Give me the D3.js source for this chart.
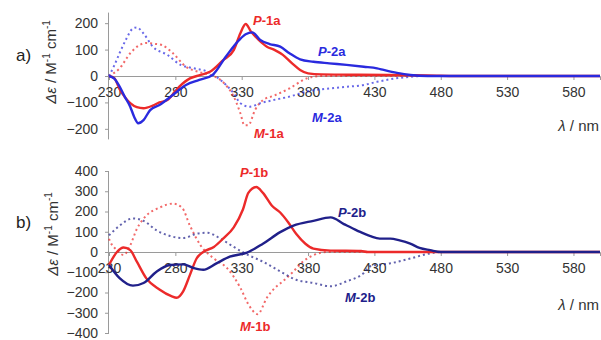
<!DOCTYPE html>
<html><head><meta charset="utf-8">
<script src="https://cdnjs.cloudflare.com/ajax/libs/d3/7.8.5/d3.min.js"></script>
<style>
body{margin:0;background:#fff;}
svg{display:block;font-family:"Liberation Sans",Arial,sans-serif;}
</style></head><body>
<svg id="c" width="601" height="340"></svg>
<script>
// ---- data (wavelength in nm, Δε in M^-1 cm^-1) ----
const xTicks = [230,280,330,380,430,480,530,580];
const yTicksA = [-200,-100,0,100,200];
const yTicksB = [-400,-300,-200,-100,0,100,200,300,400];

const p1aX = [230,234,238,242,246,251,256,263,268,274,283,291,299,306,316,324,329,333,337,343,349,355,361,368,374,380,390,410,440,470,500,600];
const p1aY = [0,-8,-50,-80,-103,-118,-122,-112,-100,-91,-40,-9,4,16,60,98,162,197,168,136,111,98,80,48,23,10,6,5,4,2,0,0];
const p2aX = [230,234,238,242,246,249,252,256,261,268,278,288,298,308,318,328,333,338,344,351,359,366,374,384,396,409,422,432,437,447,457,470,600];
const p2aY = [0,-10,-40,-80,-116,-155,-179,-167,-129,-110,-72,-34,-15,4,73,136,158,165,136,121,111,86,63,54,48,42,35,29,23,12,4,0,0];
const m1aX = [230,238,246,253,258,264,270,278,288,298,306,314,319,324,329,332,335,340,346,354,366,379,390,600];
const m1aY = [0,29,86,117,125,122,117,87,35,15,5,-15,-40,-78,-141,-186,-186,-129,-91,-75,-47,-9,0,0];
const m2aX = [230,234,238,243,248,251,256,263,274,284,294,304,314,324,329,336,344,354,366,379,397,409,422,432,445,457,470,600];
const m2aY = [0,40,87,140,180,184,161,111,80,42,29,17,-15,-66,-103,-116,-103,-91,-78,-59,-47,-41,-34,-22,-10,-3,0,0];

const p1bX = [230,236,241,246,251,258,268,277,281,286,291,296,301,309,316,324,331,335,341,346,353,359,365,371,378,384,397,420,425,600];
const p1bY = [-64,0,22,9,-48,-129,-185,-218,-226,-193,-113,-32,0,25,66,122,211,292,321,292,227,195,147,90,41,17,7,5,0,0];
const m1bX = [230,231,236,241,246,251,258,268,278,285,291,299,309,319,329,335,342,349,355,361,369,376,384,395,600];
const m1bY = [65,50,9,-15,33,114,179,219,239,219,130,33,-32,-80,-177,-258,-307,-226,-177,-145,-96,-48,-16,0,0];
const p2bX = [230,238,248,256,266,276,286,294,301,311,321,334,346,359,369,384,397,407,417,427,434,442,449,457,464,472,480,600];
const p2bY = [-64,-129,-166,-153,-96,-64,-61,-80,-88,-56,-23,-3,41,98,130,154,171,138,106,78,66,66,57,41,20,9,0,0];
const m2bX = [230,238,248,256,266,276,286,296,304,314,324,334,346,359,371,384,397,409,422,427,442,457,472,480,600];
const m2bY = [82,130,166,154,106,79,69,90,95,66,25,-12,-48,-96,-137,-153,-169,-145,-104,-70,-56,-32,-7,0,0];

const RED = "#ec2a2a", BLUE = "#2a2ade", NAVY = "#20208a";

const svg = d3.select("#c");
const x = d3.scaleLinear().domain([230,600]).range([109,600]);

function panel(cfg){
  const y = d3.scaleLinear().domain(cfg.domain).range(cfg.range);
  const g = svg.append("g");
  const ya = g.append("g").attr("transform","translate(109,0)")
    .call(d3.axisLeft(y).tickValues(cfg.yTicks).tickSize(4).tickPadding(7));
  ya.select(".domain").attr("stroke","#9a9a9a").attr("d",`M-0.5,${y(cfg.domain[1])}V${y(cfg.domain[0])}`);
  ya.selectAll(".tick line").attr("stroke","#9a9a9a");
  ya.selectAll(".tick text").attr("fill","#333").style("font-size","14px").attr("font-family","Liberation Sans, Arial");
  const xa = g.append("g").attr("transform",`translate(0,${y(0)})`)
    .call(d3.axisBottom(x).tickValues(xTicks).tickSize(4).tickPadding(7).tickFormat(d3.format("d")));
  xa.select(".domain").attr("stroke","#9a9a9a");
  xa.selectAll(".tick line").attr("stroke","#9a9a9a");
  xa.selectAll(".tick text").attr("fill","#333").style("font-size","14px").attr("font-family","Liberation Sans, Arial");
  const line = d3.line().x(d=>x(d[0])).y(d=>y(d[1])).curve(d3.curveMonotoneX);
  cfg.series.forEach(s=>{
    g.append("path").datum(d3.zip(s.xs,s.ys)).attr("d",line)
      .attr("fill","none").attr("stroke",s.color)
      .attr("stroke-width",s.dot?2:2.4)
      .attr("stroke-opacity",s.dot?0.7:1)
      .attr("stroke-dasharray",s.dot?"2,3":null)
      .attr("stroke-linejoin","round");
  });
  g.append("text").attr("x",cfg.letterX).attr("y",cfg.letterY).attr("font-size",17).attr("fill","#222").text(cfg.letter);
  const t = g.append("text").attr("transform",`translate(${cfg.titleX},${cfg.titleY}) rotate(-90)`)
    .attr("text-anchor","middle").attr("font-size",15).attr("fill","#333");
  t.append("tspan").attr("font-style","italic").text("Δε");
  t.append("tspan").text(" / M");
  t.append("tspan").attr("font-size",10).attr("dy",-6).text("-1");
  t.append("tspan").attr("dy",6).text(" cm");
  t.append("tspan").attr("font-size",10).attr("dy",-6).text("-1");
  const xt = g.append("text").attr("x",599).attr("y",cfg.xTitleY).attr("text-anchor","end").attr("font-size",15).attr("fill","#333");
  xt.append("tspan").attr("font-style","italic").text("λ");
  xt.append("tspan").text(" / nm");
  cfg.labels.forEach(l=>{
    const tx = g.append("text").attr("x",l.x).attr("y",l.y).attr("font-size",13).attr("font-weight","bold").attr("fill",l.color);
    tx.append("tspan").attr("font-style","italic").text(l.p);
    tx.append("tspan").text(l.rest);
  });
}

panel({
  domain:[-240,240], range:[139.4,12.6], yTicks:yTicksA,
  letter:"a)", letterX:16, letterY:61, titleX:56, titleY:62, xTitleY:131,
  series:[
    {xs:m1aX, ys:m1aY, color:RED, dot:true},
    {xs:m2aX, ys:m2aY, color:BLUE, dot:true},
    {xs:p1aX, ys:p1aY, color:RED},
    {xs:p2aX, ys:p2aY, color:BLUE}
  ],
  labels:[
    {x:253,y:25,p:"P",rest:"-1a",color:RED},
    {x:318,y:56,p:"P",rest:"-2a",color:BLUE},
    {x:254,y:138,p:"M",rest:"-1a",color:RED},
    {x:312,y:122,p:"M",rest:"-2a",color:BLUE}
  ]
});

panel({
  domain:[-400,400], range:[333,171], yTicks:yTicksB,
  letter:"b)", letterX:16, letterY:228, titleX:58, titleY:234, xTitleY:310,
  series:[
    {xs:m1bX, ys:m1bY, color:RED, dot:true},
    {xs:m2bX, ys:m2bY, color:NAVY, dot:true},
    {xs:p1bX, ys:p1bY, color:RED},
    {xs:p2bX, ys:p2bY, color:NAVY}
  ],
  labels:[
    {x:240,y:177,p:"P",rest:"-1b",color:RED},
    {x:338,y:217,p:"P",rest:"-2b",color:NAVY},
    {x:240,y:331,p:"M",rest:"-1b",color:RED},
    {x:345,y:302,p:"M",rest:"-2b",color:NAVY}
  ]
});
</script>
</body></html>
